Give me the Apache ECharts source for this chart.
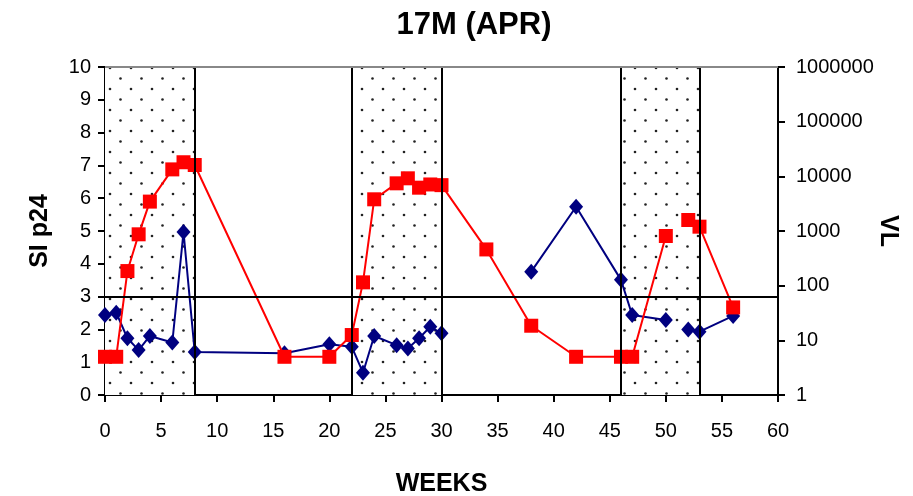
<!DOCTYPE html>
<html>
<head>
<meta charset="utf-8">
<script src="https://cdn.jsdelivr.net/npm/echarts@6/dist/echarts.min.js"></script>
<style>
html,body{margin:0;padding:0;background:#fff;}
#chart{width:913px;height:496px;}
</style>
</head>
<body>
<div id="chart"></div>
<script>
// ---- data ----
var weeks = [0,1,2,3,4,6,7,8,16,20,22,23,24,26,27,28,29,30,34,38,42,46,47,50,51,52,53,56];
var siP24 = [2.44,2.51,1.73,1.37,1.80,1.60,4.97,1.31,1.27,1.55,1.47,0.68,1.80,1.52,1.42,1.73,2.08,1.88,null,3.76,5.74,3.51,2.44,2.29,null,2.00,1.93,2.41];
var viralLoad = [5,5,185,870,3450,13400,18100,16100,5,5,12.5,115,3800,7450,9200,6200,7100,6900,460,18.5,5,5,5,810,null,1590,1200,40];
var therapyPeriods = [[0,8],[22,30],[46,53]];
var siThreshold = 3;
var xTicks = {min:0, max:60, interval:5};
var siTicks = {min:0, max:10, interval:1};
var vlTicks = {min:1, max:1000000};

function pairs(xs, ys){
  return xs.map(function(x,i){ return [x, ys[i] === null ? '-' : ys[i]]; });
}

// dotted fill pattern
var pat = document.createElement('canvas');
pat.width = 21; pat.height = 21;
var pc = pat.getContext('2d');
pc.fillStyle = '#fff';
pc.fillRect(0,0,21,21);
pc.fillStyle = '#222';
pc.beginPath(); pc.arc(5,5,1.3,0,Math.PI*2); pc.fill();
pc.beginPath(); pc.arc(15.5,15.5,1.3,0,Math.PI*2); pc.fill();

var areas = therapyPeriods.map(function(p){ return [{xAxis:p[0]},{xAxis:p[1]}]; });
var boundaryLines = [];
therapyPeriods.forEach(function(p){
  if (p[0] > xTicks.min) boundaryLines.push({xAxis:p[0]});
  boundaryLines.push({xAxis:p[1]});
});

var FONT = 'Liberation Sans';
var chart = echarts.init(document.getElementById('chart'), null, {renderer:'canvas'});
chart.setOption({
  animation:false,
  backgroundColor:'#fff',
  textStyle:{fontFamily:FONT},
  title:{
    text:'17M (APR)', left:469, top:5, textAlign:'center',
    textStyle:{fontFamily:FONT, fontSize:31, fontWeight:'bold', color:'#000'}
  },
  grid:{left:105, right:135, top:67, bottom:101, containLabel:false, outerBoundsMode:'none'},
  xAxis:{
    type:'value', min:xTicks.min, max:xTicks.max, interval:xTicks.interval,
    name:'WEEKS', nameLocation:'middle', nameGap:77,
    nameTextStyle:{fontFamily:FONT, fontSize:25, fontWeight:'bold', color:'#000'},
    axisLine:{show:true, onZero:false, lineStyle:{color:'#000', width:2}},
    axisTick:{show:true, length:7, lineStyle:{color:'#000', width:2}},
    axisLabel:{fontFamily:FONT, fontSize:20, color:'#000', margin:26},
    splitLine:{show:false}
  },
  yAxis:[{
    type:'value', min:siTicks.min, max:siTicks.max, interval:siTicks.interval,
    name:'SI p24', nameLocation:'middle', nameGap:52, nameRotate:90,
    nameTextStyle:{fontFamily:FONT, fontSize:25, fontWeight:'bold', color:'#000'},
    axisLine:{show:true, lineStyle:{color:'#000', width:2}},
    axisTick:{show:true, length:7, lineStyle:{color:'#000', width:2}},
    axisLabel:{fontFamily:FONT, fontSize:20, color:'#000', margin:14},
    splitLine:{show:false}
  },{
    type:'log', logBase:10, min:vlTicks.min, max:vlTicks.max,
    name:'VL', nameLocation:'middle', nameGap:97, nameRotate:-90, nameMoveOverlap:false,
    nameTextStyle:{fontFamily:FONT, fontSize:25, fontWeight:'bold', color:'#000'},
    axisLine:{show:true, lineStyle:{color:'#000', width:2}},
    axisTick:{show:true, length:7, lineStyle:{color:'#000', width:2}},
    axisLabel:{fontFamily:FONT, fontSize:20, color:'#000', margin:18,
      formatter:function(v){ return String(Math.round(v)); }},
    splitLine:{show:false}
  }],
  series:[{
    type:'line', name:'shading', yAxisIndex:0, data:[], silent:true,
    markArea:{silent:true, itemStyle:{color:{image:pat, repeat:'repeat'}, borderWidth:0}, data:areas},
    markLine:{silent:true, symbol:'none', label:{show:false},
      lineStyle:{color:'#000', width:2, type:'solid'},
      data: boundaryLines.concat([
        {yAxis:siThreshold},
        {yAxis:siTicks.max, lineStyle:{color:'#888', width:2, type:'solid'}}
      ])}
  },{
    type:'line', name:'SI p24', yAxisIndex:0, data:pairs(weeks, siP24),
    connectNulls:false, symbol:'diamond', symbolSize:[14,16],
    lineStyle:{color:'#000080', width:2}, itemStyle:{color:'#000080'}, z:3
  },{
    type:'line', name:'VL', yAxisIndex:1, data:pairs(weeks, viralLoad),
    connectNulls:false, symbol:'rect', symbolSize:14,
    lineStyle:{color:'#ff0000', width:2}, itemStyle:{color:'#ff0000'}, z:4
  }]
});
</script>
</body>
</html>
